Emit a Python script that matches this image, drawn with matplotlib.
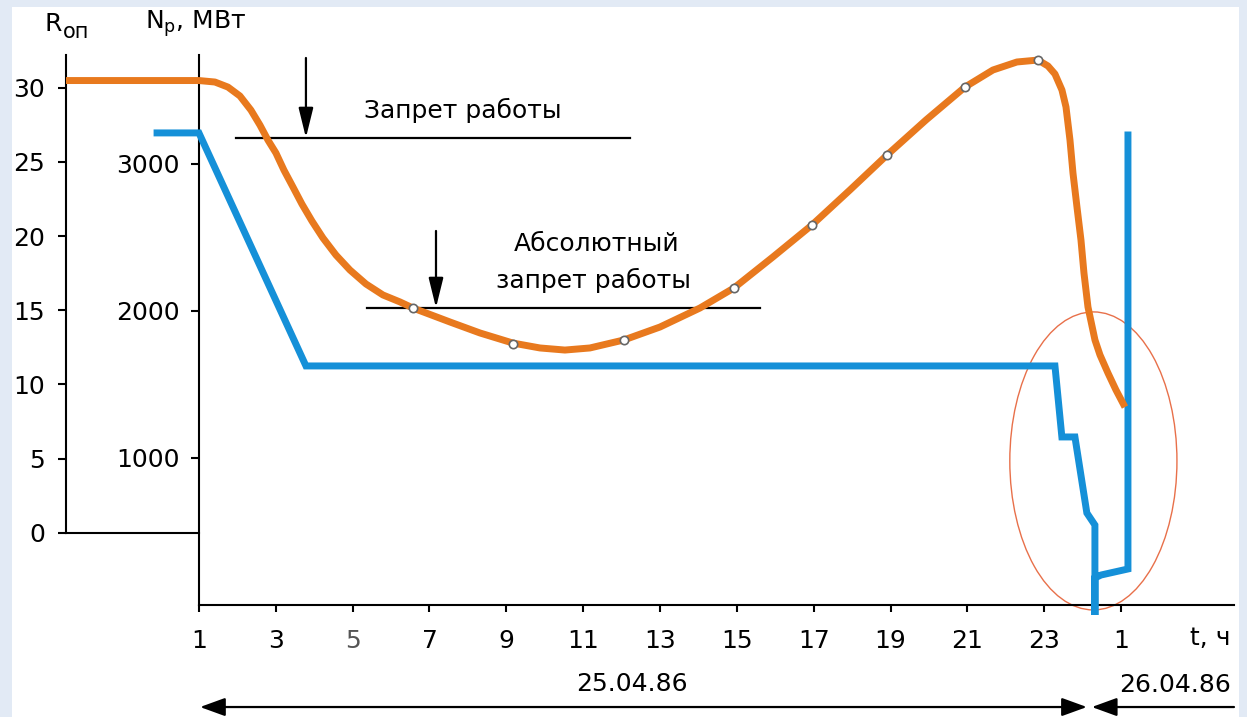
import matplotlib
matplotlib.use('Agg')
import matplotlib.pyplot as plt
from matplotlib.patches import Ellipse, Rectangle

# R_оп (orange curve), time in hours from 1:00 on 25.04.86
r_hours = [-2.46, 1.00, 1.416, 1.755, 2.067, 2.353, 2.588, 2.796, 3.004, 3.212, 3.447,
           3.681, 3.941, 4.227, 4.566, 4.930, 5.347, 5.789, 6.232, 6.570, 7.533, 8.314,
           9.173, 9.876, 10.526, 11.177, 12.062, 12.999, 14.040, 14.925, 15.940, 16.955,
           17.944, 18.907, 19.922, 20.937, 21.666, 22.291, 22.838, 23.098, 23.280, 23.462,
           23.567, 23.671, 23.749, 23.853, 23.957, 24.035, 24.139, 24.321, 24.452, 24.660,
           24.868, 25.102]
r_values = [30.47, 30.47, 30.37, 30.03, 29.43, 28.48, 27.47, 26.46, 25.59, 24.44, 23.30,
            22.15, 21.01, 19.87, 18.72, 17.71, 16.77, 16.03, 15.56, 15.15, 14.21, 13.47,
            12.79, 12.46, 12.32, 12.46, 13.00, 13.87, 15.15, 16.50, 18.59, 20.74,
            23.10, 25.45, 27.81, 30.03, 31.18, 31.72, 31.85, 31.45, 30.91, 29.83,
            28.69, 26.46, 24.24, 21.95, 19.73, 17.51, 15.22, 13.00, 11.99, 10.77,
            9.63, 8.48]

# measured points marked on the R curve
pt_hours = [6.57, 9.17, 12.06, 14.92, 16.96, 18.91, 20.94, 22.84]
pt_values = [15.15, 12.73, 13.00, 16.50, 20.74, 25.45, 30.03, 31.85]

# N_р, MW (blue line)
n_hours = [-0.09, 1.0, 3.785, 23.28, 23.46, 23.80, 24.11, 24.32, 24.32, 24.32, 24.48, 25.18, 25.18]
n_values = [3211, 3211, 1626, 1626, 1143, 1143, 626, 544, -68, 184, 204, 245, 3197]

hour_ticks = [1, 3, 5, 7, 9, 11, 13, 15, 17, 19, 21, 23, 25]
hour_labels = ['1', '3', '5', '7', '9', '11', '13', '15', '17', '19', '21', '23', '1']
r_ticks = [0, 5, 10, 15, 20, 25, 30]
n_ticks = [1000, 2000, 3000]

ban_level = 26.62        # "Запрет работы"
abs_ban_level = 15.17    # "Абсолютный запрет работы"

ORANGE = '#E8791E'
BLUE = '#1590D8'
FS = 18

plt.rcParams['font.family'] = ['DejaVu Sans']
plt.rcParams['mathtext.fontset'] = 'dejavusans'

fig = plt.figure(figsize=(12.47, 7.17), dpi=100, facecolor='#E2EAF5')
fig.patches.append(Rectangle((12 / 1247, 0), 1227 / 1247, 710 / 717,
                             transform=fig.transFigure, facecolor='white',
                             edgecolor='none', zorder=-10))

ax = fig.add_axes([66 / 1247, 112 / 717, 1168 / 1247, 550 / 717])
ax.patch.set_visible(False)
ax.set_xlim(-2.46, 27.94)
ax.set_ylim(0, 3741)

ax2 = ax.twinx()
ax2.set_ylim(-4.85, 32.19)

# spines
for s in ['top', 'right']:
    ax.spines[s].set_visible(False)
    ax2.spines[s].set_visible(False)
ax.spines['left'].set_position(('data', 1))
ax.spines['bottom'].set_bounds(1, 27.94)
ax2.spines['left'].set_position(('axes', 0))
ax2.spines['left'].set_bounds(0, 32.19)
ax2.spines['bottom'].set_position(('data', 0))
ax2.spines['bottom'].set_bounds(-2.46, 1)
for a in (ax, ax2):
    for s in a.spines.values():
        s.set_linewidth(1.5)
        s.set_color('black')

# ticks
ax.set_xticks(hour_ticks, hour_labels)
ax.tick_params(axis='x', direction='out', length=5, width=1.5, pad=12, labelsize=FS)
ax.get_xticklabels()[2].set_color('#555555')
ax.set_yticks(n_ticks)
ax.tick_params(axis='y', direction='out', length=6, width=1.5, pad=8, labelsize=FS)
ax2.yaxis.tick_left()
ax2.set_yticks(r_ticks)
ax2.tick_params(axis='y', direction='out', length=6, width=1.5, pad=9, labelsize=FS)

# data lines
ax.plot(n_hours, n_values, color=BLUE, lw=5, solid_joinstyle='miter', clip_on=False, zorder=3)
ax2.plot(r_hours, r_values, color=ORANGE, lw=5, solid_capstyle='butt',
         solid_joinstyle='round', zorder=3)
ax2.plot(pt_hours, pt_values, 'o', ms=6, mfc='white', mec='#666666', mew=1.2, zorder=4)

# limit lines with arrows
ax2.plot([1.96, 12.22], [ban_level, ban_level], color='black', lw=1.6, zorder=2)
ax2.plot([5.37, 15.60], [abs_ban_level, abs_ban_level], color='black', lw=1.6, zorder=2)
arrow_kw = dict(arrowstyle='-|>,head_length=1.3,head_width=0.32', color='black', lw=1.6,
                mutation_scale=14, shrinkA=0, shrinkB=0)
ax2.annotate('', xy=(3.785, ban_level), xytext=(3.785, 31.99), arrowprops=arrow_kw)
ax2.annotate('', xy=(7.17, abs_ban_level), xytext=(7.17, 20.34), arrowprops=arrow_kw)
ax2.text(7.87, 28.48, 'Запрет работы', fontsize=FS, ha='center', va='center')
ax2.text(11.36, 19.46, 'Абсолютный', fontsize=FS, ha='center', va='center')
ax2.text(11.26, 17.04, 'запрет работы', fontsize=FS, ha='center', va='center')

# highlighted region
ax.add_patch(Ellipse((24.28, 980), 4.35, 2027, fill=False, edgecolor='#E8704A',
                     lw=1, clip_on=False, zorder=2))

# axis titles
ax.text(-0.018, 1.057, 'R', transform=ax.transAxes, fontsize=FS, ha='left', va='center')
ax.text(-0.0025, 1.042, 'оп', transform=ax.transAxes, fontsize=FS - 3, ha='left', va='center')
ax.text(0.0676, 1.057, r'N$_{\mathregular{р}}$, МВт', transform=ax.transAxes,
        fontsize=FS, ha='left', va='center')
xt = ax.get_xaxis_transform()
ax.text(27.31, -0.06, 't, ч', transform=xt, fontsize=FS, ha='center', va='center')

# date arrows
ax.annotate('', xy=(1.03, -0.1855), xytext=(24.11, -0.1855),
            xycoords=xt, textcoords=xt, annotation_clip=False,
            arrowprops=dict(arrowstyle='<|-|>,head_length=1.1,head_width=0.4', color='black',
                            lw=1.6, mutation_scale=14, shrinkA=0, shrinkB=0))
ax.annotate('', xy=(24.24, -0.1855), xytext=(27.94, -0.1855),
            xycoords=xt, textcoords=xt, annotation_clip=False,
            arrowprops=dict(arrowstyle='-|>,head_length=1.1,head_width=0.4', color='black',
                            lw=1.6, mutation_scale=14, shrinkA=0, shrinkB=0))
ax.text(12.27, -0.143, '25.04.86', transform=xt, fontsize=FS, ha='center', va='center')
ax.text(26.40, -0.145, '26.04.86', transform=xt, fontsize=FS, ha='center', va='center')

fig.savefig('out.png', dpi=100, facecolor=fig.get_facecolor())
